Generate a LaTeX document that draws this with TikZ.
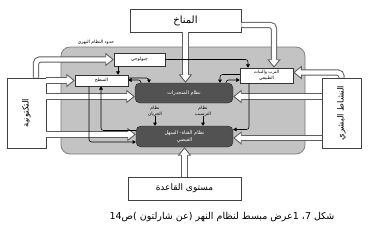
\documentclass[tikz,border=0pt]{standalone}
\usepackage{fontspec}
\usepackage{tikz}
\usetikzlibrary{arrows.meta}
\newfontfamily\arabicfont[Script=Arabic]{DejaVu Sans}
\TeXXeTstate=1
\newcommand{\ar}[1]{\beginR #1\endR}
\definecolor{rnBand}{RGB}{195,195,195}
\definecolor{rnRim}{RGB}{120,120,120}
\definecolor{rnCore}{RGB}{82,82,82}
\definecolor{rnFat}{RGB}{95,95,95}

\begin{document}
\begin{tikzpicture}[
  x=1pt, y=-1pt,
  font=\arabicfont\fontsize{5}{6}\selectfont,
  srcbox/.style={
    draw=black!75, fill=white, line width=0.6pt, inner sep=0pt
  },
  subbox/.style={
    draw=black!80, fill=white, line width=0.5pt, inner sep=0pt, align=center,
    font=\arabicfont\fontsize{4.5}{5.5}\selectfont
  },
  corebox/.style={
    draw=black!85, fill=rnCore, rounded corners=5pt, inner sep=0pt,
    align=center, text=white, font=\arabicfont\fontsize{5}{6.5}\selectfont
  },
  tag/.style={inner sep=0pt, align=center,
    font=\arabicfont\fontsize{4.5}{6}\selectfont},
  fat/.style={
    draw=rnFat, line width=6.4pt, rounded corners=4pt,
    -{Triangle[width=13.5pt, length=8.5pt, line width=0.9pt, fill=white, color=rnFat]},
    postaction={draw=white, line width=4.4pt, -, shorten >=5.5pt}
  },
  link/.style={draw=black, line width=0.55pt, rounded corners=2.5pt,
    -{Triangle[width=3.8pt, length=3.3pt]}}
]
\useasboundingbox (0,0) rectangle (388,233);

% river system boundary
\draw[draw=rnRim, fill=rnBand, rounded corners=9pt, line width=0.7pt]
  (61,47) rectangle (305,154);
\node[tag] (rim) at (96,42) {\ar{حدود النظام النهري}};

% outside controls
\node[srcbox, minimum width=111pt, minimum height=23pt,
      font=\arabicfont\fontsize{10}{11}\selectfont] (clim) at (185.5,20.5) {المناخ};
\node[srcbox, minimum width=113pt, minimum height=23pt,
      font=\arabicfont\fontsize{9}{10}\selectfont] (base) at (184.5,188.5) {\ar{مستوى القاعدة}};
\node[srcbox, minimum width=39pt, minimum height=70pt] (tect) at (26.5,113) {};
\node[rotate=90, inner sep=0pt, font=\arabicfont\fontsize{8.5}{9}\selectfont]
  (tectlab) at (tect) {التكتونية};
\node[srcbox, minimum width=39pt, minimum height=70pt] (human) at (341.5,113) {};
\node[rotate=90, inner sep=0pt, font=\arabicfont\fontsize{8.5}{9}\selectfont]
  (humanlab) at (human) {\ar{النشاط البشري}};

% inside the system
\node[subbox, minimum width=51pt, minimum height=13pt] (geol) at (139.5,59.5) {جيولوجي};
\node[subbox, minimum width=53pt, minimum height=11pt] (surf) at (101.5,80.5) {السطح};
\node[subbox, minimum width=53pt, minimum height=15pt] (soil) at (266.5,75.5)
  {\ar{الترب والنبات}\\\ar{الطبيعي}};
\node[corebox, minimum width=98pt, minimum height=20pt] (slope) at (184,93)
  {\ar{نظام المنحدرات}};
\node[corebox, minimum width=97pt, minimum height=21pt] (chan) at (184.5,136.5)
  {\ar{نظام القناة\kern0pt - السهل}\\\ar{الفيضي}};
\node[tag] (runlab) at (155,111) {نظام\\الجريان};
\node[tag] (sedlab) at (203,111) {نظام\\الترسيب};

\coordinate (slopeL) at ([yshift=-3.5pt]slope.west);
\coordinate (slopeR) at ([yshift=-3.5pt]slope.east);
\coordinate (chanL) at ([yshift=2pt]chan.west);
\coordinate (chanR) at ([yshift=-1.5pt]chan.east);
\coordinate (geolS) at ([xshift=-21.5pt]geol.south);
\coordinate (surfA) at ([xshift=-12.5pt]surf.south);
\coordinate (soilB) at ([xshift=-17.5pt]soil.south);

% inputs
\draw[fat] (clim.south) -- (clim.south |- slope.north);
\draw[fat] ([yshift=-4.5pt]clim.east) -| ([xshift=7.5pt]soil.north);
\draw[fat] ([xshift=9.5pt]tect.north) |- (geol.west);
\draw[fat] (tect.east |- surf.west) -- (surf.west);
\draw[fat] (tect.east |- slopeL) -- (slopeL);
\draw[fat] (tect.east |- chanL) -- (chanL);
\draw[fat] (human.north) |- ([yshift=3pt]soil.east);
\draw[fat] (human.west |- slopeR) -- (slopeR);
\draw[fat] (human.west |- chanR) -- (chanR);
\draw[fat] (base.north) -- (base.north |- chan.south);

% internal links
\draw[link] (geolS) -- (geolS |- surf.north);
\draw[link] (geol.east) -| ([xshift=-18.5pt]soil.north);
\draw[link] ([yshift=2.5pt]surf.east) -| ([xshift=-35pt]slope.north);
\draw[link] ([xshift=-43pt]slope.north) |- ([yshift=0.5pt]surf.east);
\draw[link] ([yshift=1pt]soil.west) -| ([xshift=36pt]slope.north);
\draw[link] ([xshift=42pt]slope.north) |- ([yshift=-4.5pt]soil.west);
\draw[link] (surfA) |- ([yshift=-5.5pt]chan.west);
\draw[link] ([yshift=6pt]chan.west) -| ([xshift=-0.5pt]surf.south);
\draw[link] (soilB) |- ([yshift=7pt]chan.east);
\draw[link] (runlab.south) -- (runlab.south |- chan.north);
\draw[link] (sedlab.south) -- (sedlab.south |- chan.north);

% caption
\node[inner sep=0pt, font=\arabicfont\fontsize{9.5}{11}\selectfont] (cap) at (222,217)
  {\ar{شكل 7\kern0pt ، 1\kern0pt عرض مبسط لنظام النهر (\kern0pt عن شارلتون )\kern0pt ص\beginL 14\endL}};
\end{tikzpicture}
\end{document}
